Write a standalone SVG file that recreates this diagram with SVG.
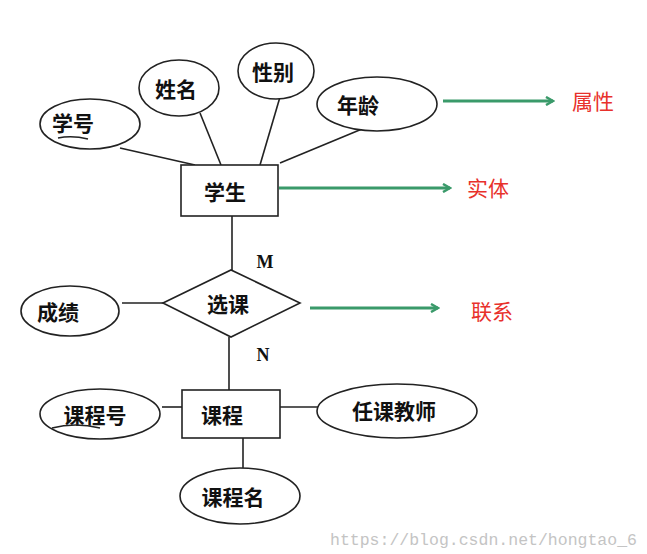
<svg xmlns="http://www.w3.org/2000/svg" width="647" height="554" viewBox="0 0 647 554">
<defs>
<style>
.s{fill:none;stroke:#222;stroke-width:1.6}
.n{fill:#fff;stroke:#222;stroke-width:1.6}
.t{font-family:"Noto Sans CJK SC",sans-serif;font-size:21px;font-weight:bold;fill:#111;text-anchor:middle;dominant-baseline:central}
.r{font-family:"Noto Sans CJK SC",serif;font-size:21px;fill:#e8312b;text-anchor:middle;dominant-baseline:central}
.g{fill:none;stroke:#3a9a6a;stroke-width:3}
.m{font-family:"Liberation Serif",serif;font-size:18px;font-weight:bold;fill:#111;text-anchor:middle;dominant-baseline:central}
</style>
<marker id="a" markerWidth="10" markerHeight="10" refX="8" refY="5" orient="auto" markerUnits="userSpaceOnUse"><path d="M1,1 L8,5 L1,9" fill="none" stroke="#3a9a6a" stroke-width="2.5"/></marker>
</defs>
<rect width="647" height="554" fill="#fff"/>
<g id="connectors">
<line class="s" x1="120" y1="148" x2="195" y2="165"/>
<line class="s" x1="200" y1="113" x2="221" y2="165"/>
<line class="s" x1="280" y1="97" x2="260" y2="165"/>
<line class="s" x1="362" y1="129" x2="280" y2="163"/>
<line class="s" x1="232" y1="216" x2="232" y2="270"/>
<line class="s" x1="122" y1="303" x2="163" y2="303"/>
<line class="s" x1="229" y1="337" x2="229" y2="390"/>
<line class="s" x1="162" y1="407" x2="182" y2="407"/>
<line class="s" x1="280" y1="407" x2="320" y2="407"/>
<line class="s" x1="243" y1="438" x2="243" y2="468"/>
<line class="g" x1="443" y1="101" x2="553" y2="101" marker-end="url(#a)"/>
<line class="g" x1="279" y1="188" x2="450" y2="188" marker-end="url(#a)"/>
<line class="g" x1="310" y1="308" x2="438" y2="308" marker-end="url(#a)"/>
<text class="m" x="265" y="262">M</text>
<text class="m" x="263" y="355">N</text>
</g>
<g id="xuehao"><ellipse class="n" cx="90" cy="124" rx="50" ry="25"/><text class="t" x="73" y="122">学号</text><path class="s" d="M58,138 Q72,135 88,139" stroke-width="1.2"/></g>
<g id="xingming"><ellipse class="n" cx="179" cy="88" rx="40" ry="28"/><text class="t" x="176" y="88">姓名</text></g>
<g id="xingbie"><ellipse class="n" cx="276" cy="71" rx="38" ry="28"/><text class="t" x="273" y="71">性别</text></g>
<g id="nianling"><ellipse class="n" cx="377" cy="104" rx="60" ry="27"/><text class="t" x="358" y="104">年龄</text></g>
<g id="xuesheng"><rect class="n" x="181" y="165" width="97" height="51"/><text class="t" x="225" y="191">学生</text></g>
<g id="xuanke"><polygon class="n" points="163,303 231,270 300,303 231,337"/><text class="t" x="228" y="303">选课</text></g>
<g id="chengji"><ellipse class="n" cx="70" cy="311" rx="49" ry="25"/><text class="t" x="58" y="311">成绩</text></g>
<g id="kecheng"><rect class="n" x="182" y="390" width="98" height="48"/><text class="t" x="222" y="414">课程</text></g>
<g id="kechenghao"><ellipse class="n" cx="100" cy="414" rx="60" ry="25"/><text class="t" x="95" y="414">课程号</text><path class="s" d="M52,428 Q75,422 100,428" stroke-width="1.2"/></g>
<g id="renkejiaoshi"><ellipse class="n" cx="397" cy="411" rx="80" ry="27"/><text class="t" x="394" y="410">任课教师</text></g>
<g id="kechengming"><ellipse class="n" cx="240" cy="496" rx="60" ry="28"/><text class="t" x="233" y="496">课程名</text></g>
<g id="labels">
<text class="r" x="593" y="100">属性</text>
<text class="r" x="488" y="187">实体</text>
<text class="r" x="492" y="310">联系</text>
</g>
<text x="330" y="545" font-family="Liberation Mono,monospace" font-size="16.5" fill="#c4c4c4">https://blog.csdn.net/hongtao_6</text>
</svg>
